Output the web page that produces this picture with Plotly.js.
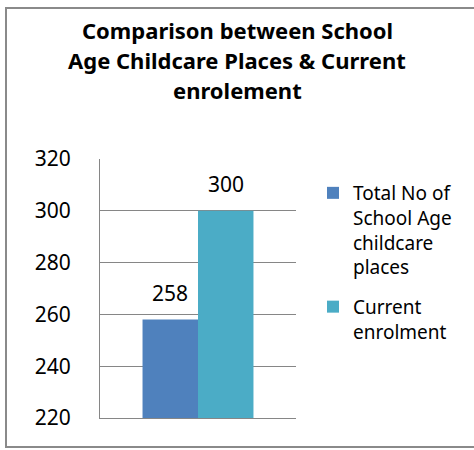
<!DOCTYPE html>
<html>
<head>
<meta charset="utf-8">
<script src="https://cdn.plot.ly/plotly-3.0.1.min.js"></script>
<style>
  html, body { margin: 0; padding: 0; background: #fff; }
  #wrap { position: relative; width: 474px; height: 450px; overflow: hidden; }
  #frame { position: absolute; left: 5px; top: 7px; width: 500px; height: 441px;
           box-sizing: border-box; border: 2px solid #8a8a8a; pointer-events: none; }
  #chart { position: absolute; left: 0; top: 0; width: 474px; height: 450px; }
</style>
</head>
<body>
<div id="wrap">
  <div id="frame"></div>
  <div id="chart"></div>
</div>
<script>
const categories = ["Places"];
const seriesNames = ["Total No of<br>School Age<br>childcare<br>places", "Current<br>enrolment"];
const seriesValues = [[258], [300]];
const seriesColors = ["#4F81BD", "#4BACC6"];
const titleLines = ["Comparison between School", "Age Childcare Places & Current", "enrolement"];
const yTickVals = [220, 240, 260, 280, 300, 320];

const FONT = "Noto Sans, Open Sans, sans-serif";
const plotW = 196, plotH = 259, mL = 100, mT = 159;

const traces = seriesValues.map((vals, i) => ({
  type: "bar",
  x: categories,
  y: vals,
  name: seriesNames[i],
  legendgroup: "g" + i,
  marker: { color: seriesColors[i], line: { width: 0 } },
  hoverinfo: "none"
}));

const annotations = [];
// title lines
const titleCenters = [30, 60, 90];
titleLines.forEach((t, i) => {
  annotations.push({
    text: "<b>" + t + "</b>",
    xref: "paper", yref: "paper",
    x: (237 - mL) / plotW, y: (mT + plotH - titleCenters[i]) / plotH,
    xanchor: "center", yanchor: "middle",
    showarrow: false,
    font: { family: FONT, size: 22, color: "#000" }
  });
});
// data labels
const nSeries = seriesValues.length;
const barPx = plotW * (1 - 0.434) / nSeries;
seriesValues.forEach((vals, i) => {
  vals.forEach((v, j) => {
    annotations.push({
      text: String(v),
      xref: "x", yref: "y",
      x: categories[j], y: v,
      xshift: (i - (nSeries - 1) / 2) * barPx,
      yshift: 27,
      xanchor: "center", yanchor: "middle",
      showarrow: false,
      font: { family: FONT, size: 21, color: "#000" }
    });
  });
});

const layout = {
  width: 474, height: 450,
  margin: { l: mL, r: 474 - mL - plotW, t: mT, b: 450 - mT - plotH, pad: 0 },
  paper_bgcolor: "rgba(0,0,0,0)",
  plot_bgcolor: "rgba(0,0,0,0)",
  barmode: "group",
  bargap: 0.434,
  bargroupgap: 0,
  showlegend: true,
  legend: {
    x: (313 - mL) / plotW, xanchor: "left",
    y: (mT + plotH - 174) / plotH, yanchor: "top",
    valign: "top",
    traceorder: "grouped",
    tracegroupgap: 12,
    font: { family: FONT, size: 19, color: "#000" },
    bgcolor: "rgba(0,0,0,0)"
  },
  xaxis: {
    type: "category",
    range: [-0.5, 0.5],
    showticklabels: false,
    showgrid: false,
    showline: true, linecolor: "#868686", linewidth: 1,
    ticks: "", fixedrange: true
  },
  yaxis: {
    range: [220, 320],
    tickvals: yTickVals,
    ticktext: yTickVals.map(String),
    showgrid: true, gridcolor: "#868686", gridwidth: 1,
    showline: true, linecolor: "#868686", linewidth: 1,
    zeroline: false,
    ticks: "",
    ticklabelstandoff: 24,
    tickfont: { family: FONT, size: 21, color: "#000" },
    fixedrange: true
  },
  annotations: annotations
};

Plotly.newPlot("chart", traces, layout, { staticPlot: true, displayModeBar: false });
</script>
</body>
</html>
